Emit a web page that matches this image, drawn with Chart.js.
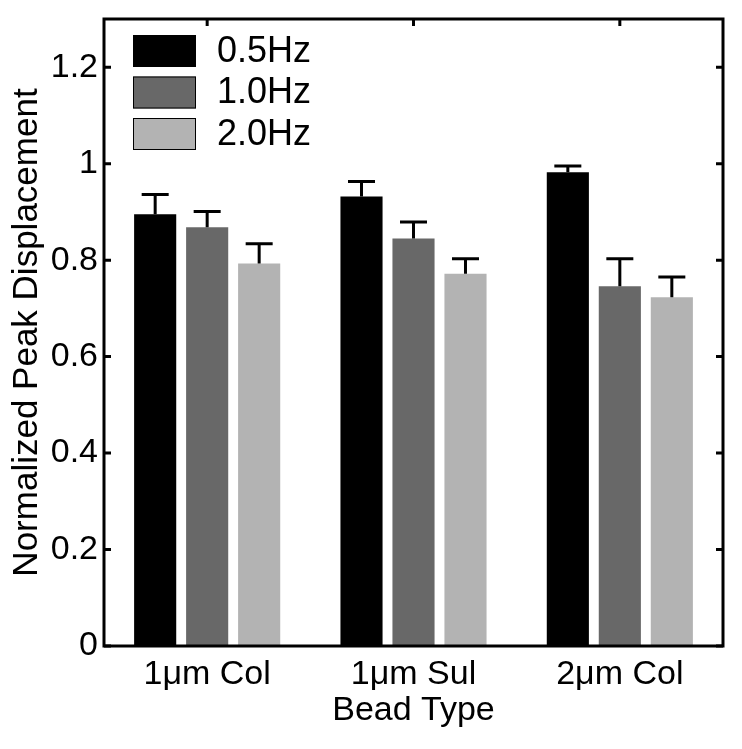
<!DOCTYPE html>
<html>
<head>
<meta charset="utf-8">
<title>Normalized Peak Displacement</title>
<script src="https://cdn.jsdelivr.net/npm/chart.js@4.4.1/dist/chart.umd.min.js"></script>
<style>
  html, body { margin: 0; padding: 0; background: #fff; }
  #wrap { width: 742px; height: 749px; }
</style>
</head>
<body>
<div id="wrap"><canvas id="chartPeak" width="742" height="749"></canvas></div>
<script>
// bead types along x
var categories = ["1\u03bcm Col", "1\u03bcm Sul", "2\u03bcm Col"];
var freqLabels = ["0.5Hz", "1.0Hz", "2.0Hz"];

// mean normalized peak displacement per frequency
var hz05 = [0.895, 0.932, 0.982];
var hz10 = [0.868, 0.845, 0.746];
var hz20 = [0.793, 0.772, 0.723];

// upper error (one-sided)
var err05 = [0.041, 0.031, 0.013];
var err10 = [0.033, 0.034, 0.057];
var err20 = [0.041, 0.031, 0.042];

var yTicks = [0, 0.2, 0.4, 0.6, 0.8, 1, 1.2];

var colors = {
  black: "#000000",
  dark: "#686868",
  light: "#b3b3b3",
};

var FONT = "'Liberation Sans', Arial, Helvetica, sans-serif";

// axes box + inward ticks (MATLAB look)
var frameTicks = {
  id: "frameTicks",
  beforeDatasetsDraw: function (chart) {
    var ctx = chart.ctx;
    var a = chart.chartArea;
    var x = chart.scales.x;
    var y = chart.scales.y;
    var len = 7;
    ctx.save();
    ctx.strokeStyle = "#000";
    ctx.lineWidth = 3;
    ctx.beginPath();
    y.ticks.forEach(function (t) {
      var py = y.getPixelForValue(t.value);
      ctx.moveTo(a.left, py);
      ctx.lineTo(a.left + len, py);
      ctx.moveTo(a.right, py);
      ctx.lineTo(a.right - len, py);
    });
    x.ticks.forEach(function (t, i) {
      var px = x.getPixelForTick(i);
      ctx.moveTo(px, a.top);
      ctx.lineTo(px, a.top + len);
      ctx.moveTo(px, a.bottom);
      ctx.lineTo(px, a.bottom - len);
    });
    ctx.stroke();
    ctx.restore();
  },
  afterDatasetsDraw: function (chart) {
    var ctx = chart.ctx;
    var a = chart.chartArea;
    ctx.save();
    ctx.strokeStyle = "#000";
    ctx.lineWidth = 3;
    ctx.strokeRect(a.left, a.top, a.right - a.left, a.bottom - a.top);
    ctx.restore();
  },
};

// upward error bars with caps
var errorBars = {
  id: "errorBars",
  afterDatasetsDraw: function (chart) {
    var ctx = chart.ctx;
    var y = chart.scales.y;
    ctx.save();
    ctx.strokeStyle = "#000";
    ctx.lineWidth = 3;
    chart.data.datasets.forEach(function (ds, di) {
      var meta = chart.getDatasetMeta(di);
      meta.data.forEach(function (bar, i) {
        var top = y.getPixelForValue(ds.data[i] + ds.errors[i]);
        ctx.beginPath();
        ctx.moveTo(bar.x, bar.y);
        ctx.lineTo(bar.x, top);
        ctx.moveTo(bar.x - 13.5, top);
        ctx.lineTo(bar.x + 13.5, top);
        ctx.stroke();
      });
    });
    ctx.restore();
  },
};

// legend box inside the axes, upper left
var insideLegend = {
  id: "insideLegend",
  afterDraw: function (chart) {
    var ctx = chart.ctx;
    var a = chart.chartArea;
    var bx = a.left + 29;
    var by = a.top + 16;
    var bw = 63;
    var bh = 32;
    var step = 41.5;
    ctx.save();
    ctx.font = "36px " + FONT;
    ctx.textBaseline = "middle";
    chart.data.datasets.forEach(function (ds, i) {
      var yy = by + i * step;
      ctx.fillStyle = ds.backgroundColor;
      ctx.fillRect(bx, yy, bw, bh);
      ctx.strokeStyle = "#000";
      ctx.lineWidth = 1;
      ctx.strokeRect(bx + 0.5, yy + 0.5, bw - 1, bh - 1);
      ctx.fillStyle = "#000";
      ctx.fillText(ds.label, bx + bw + 21, yy + bh / 2 + 1);
    });
    ctx.restore();
  },
};

function makeSet(label, data, errors, color) {
  return {
    label: label,
    data: data,
    errors: errors,
    backgroundColor: color,
    borderWidth: 0,
    categoryPercentage: 0.756,
    barPercentage: 0.81,
  };
}

new Chart(document.getElementById("chartPeak"), {
  type: "bar",
  data: {
    labels: categories,
    datasets: [
      makeSet(freqLabels[0], hz05, err05, colors.black),
      makeSet(freqLabels[1], hz10, err10, colors.dark),
      makeSet(freqLabels[2], hz20, err20, colors.light),
    ],
  },
  options: {
    responsive: false,
    animation: false,
    layout: { padding: { top: 19, right: 19, bottom: 0, left: 0 } },
    plugins: {
      legend: { display: false },
      tooltip: { enabled: false },
    },
    scales: {
      x: {
        grid: { display: false, drawTicks: false },
        border: { display: false },
        ticks: {
          color: "#000",
          padding: 8,
          maxRotation: 0,
          font: { family: FONT, size: 34 },
        },
        title: {
          display: true,
          text: "Bead Type",
          color: "#000",
          font: { family: FONT, size: 34 },
          padding: { top: 0, bottom: 18 },
        },
        afterFit: function (scale) {
          scale.height = 103;
          scale.paddingLeft = 0;
          scale.paddingRight = 0;
        },
      },
      y: {
        min: 0,
        max: 1.3,
        grid: { display: false, drawTicks: false },
        border: { display: false },
        ticks: {
          color: "#000",
          padding: 6,
          font: { family: FONT, size: 34 },
          callback: function (v) {
            return String(v);
          },
        },
        afterBuildTicks: function (scale) {
          scale.ticks = yTicks.map(function (v) {
            return { value: v };
          });
        },
        title: {
          display: true,
          text: "Normalized Peak Displacement",
          color: "#000",
          font: { family: FONT, size: 35 },
          padding: { top: 6, bottom: 0 },
        },
        afterFit: function (scale) {
          scale.width = 104;
          scale.paddingTop = 0;
          scale.paddingBottom = 0;
        },
      },
    },
  },
  plugins: [frameTicks, errorBars, insideLegend],
});
</script>
</body>
</html>
